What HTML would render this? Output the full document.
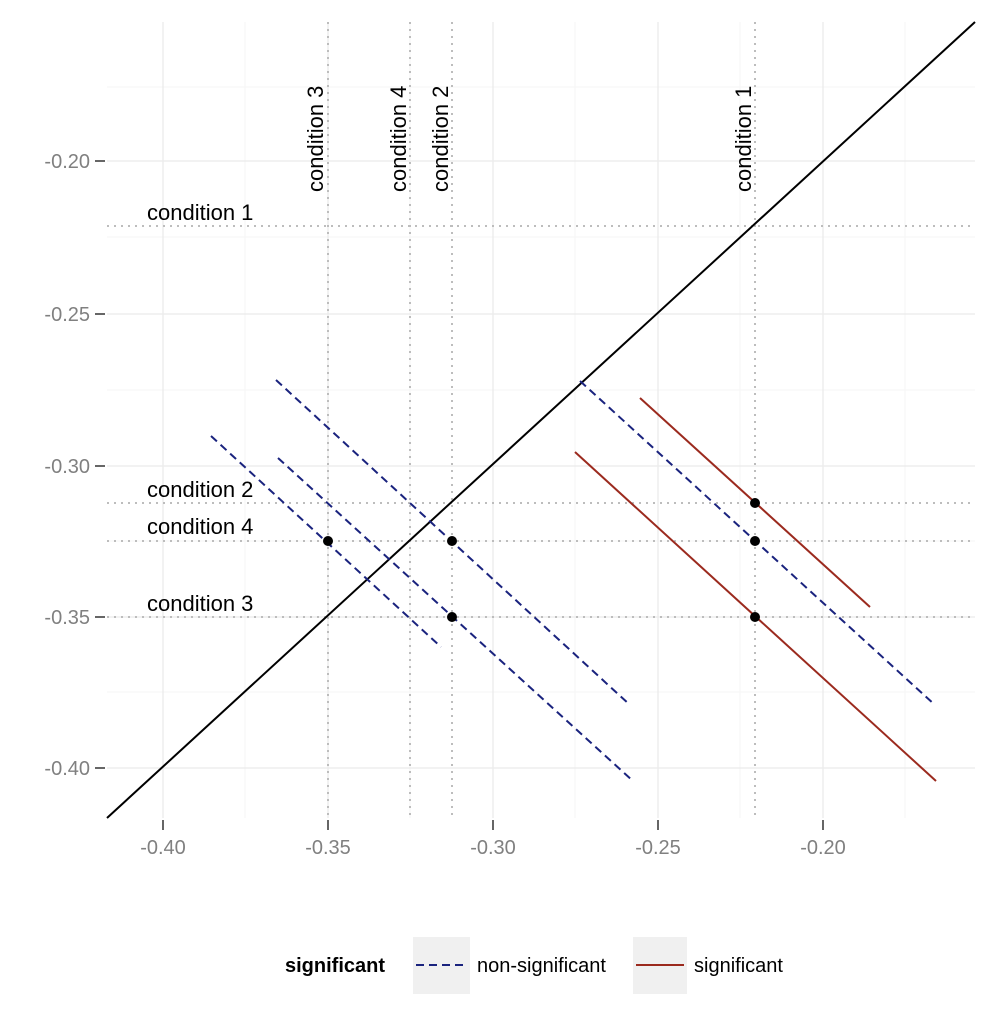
<!DOCTYPE html>
<html><head><style>body{margin:0;background:#fff}</style></head><body>
<svg width="1004" height="1004" xmlns="http://www.w3.org/2000/svg" font-family="Liberation Sans, sans-serif">
<rect width="1004" height="1004" fill="#fff"/>
<g stroke="#f5f5f5" stroke-width="1">
<line x1="245" y1="22" x2="245" y2="818"/><line x1="410" y1="22" x2="410" y2="818"/><line x1="575" y1="22" x2="575" y2="818"/><line x1="740" y1="22" x2="740" y2="818"/><line x1="905" y1="22" x2="905" y2="818"/>
<line x1="107" y1="87" x2="975" y2="87"/><line x1="107" y1="237" x2="975" y2="237"/><line x1="107" y1="390" x2="975" y2="390"/><line x1="107" y1="541" x2="975" y2="541"/><line x1="107" y1="692" x2="975" y2="692"/>
</g>
<g stroke="#ededed" stroke-width="1.5">
<line x1="163" y1="22" x2="163" y2="818"/><line x1="328" y1="22" x2="328" y2="818"/><line x1="493" y1="22" x2="493" y2="818"/><line x1="658" y1="22" x2="658" y2="818"/><line x1="823" y1="22" x2="823" y2="818"/>
<line x1="107" y1="161" x2="975" y2="161"/><line x1="107" y1="314" x2="975" y2="314"/><line x1="107" y1="466" x2="975" y2="466"/><line x1="107" y1="617" x2="975" y2="617"/><line x1="107" y1="768" x2="975" y2="768"/>
</g>
<g stroke="#bdbdbd" stroke-width="2" stroke-dasharray="2,5">
<line x1="328" y1="22" x2="328" y2="818"/><line x1="410" y1="22" x2="410" y2="818"/><line x1="452" y1="22" x2="452" y2="818"/><line x1="755" y1="22" x2="755" y2="818"/>
<line x1="107" y1="226" x2="975" y2="226"/><line x1="107" y1="503" x2="975" y2="503"/><line x1="107" y1="541" x2="975" y2="541"/><line x1="107" y1="617" x2="975" y2="617"/>
</g>
<line x1="107" y1="818" x2="975" y2="22" stroke="#000" stroke-width="2"/>
<g stroke="#1a237e" stroke-width="2" stroke-dasharray="8,5">
<line x1="211" y1="436" x2="441" y2="647"/>
<line x1="276" y1="380" x2="630" y2="705"/>
<line x1="278" y1="458" x2="633" y2="781"/>
<line x1="580" y1="381" x2="935" y2="705"/>
</g>
<g stroke="#9b2a1e" stroke-width="2">
<line x1="640" y1="398" x2="870" y2="607"/>
<line x1="575" y1="452" x2="936" y2="781"/>
</g>
<g fill="#000">
<circle cx="328" cy="541" r="5"/><circle cx="452" cy="541" r="5"/><circle cx="452" cy="617" r="5"/>
<circle cx="755" cy="503" r="5"/><circle cx="755" cy="541" r="5"/><circle cx="755" cy="617" r="5"/>
</g>
<g font-size="22" fill="#000">
<text x="147" y="220">condition 1</text><text x="147" y="497">condition 2</text><text x="147" y="534">condition 4</text><text x="147" y="611">condition 3</text>
<text transform="translate(323,192) rotate(-90)">condition 3</text>
<text transform="translate(406,192) rotate(-90)">condition 4</text>
<text transform="translate(448,192) rotate(-90)">condition 2</text>
<text transform="translate(751,192) rotate(-90)">condition 1</text>
</g>
<g stroke="#666" stroke-width="2">
<line x1="95" y1="161" x2="105" y2="161"/><line x1="95" y1="314" x2="105" y2="314"/><line x1="95" y1="466" x2="105" y2="466"/><line x1="95" y1="617" x2="105" y2="617"/><line x1="95" y1="768" x2="105" y2="768"/>
<line x1="163" y1="820" x2="163" y2="830"/><line x1="328" y1="820" x2="328" y2="830"/><line x1="493" y1="820" x2="493" y2="830"/><line x1="658" y1="820" x2="658" y2="830"/><line x1="823" y1="820" x2="823" y2="830"/>
</g>
<g font-size="20" fill="#808080">
<g text-anchor="end"><text x="90" y="168">-0.20</text><text x="90" y="321">-0.25</text><text x="90" y="473">-0.30</text><text x="90" y="624">-0.35</text><text x="90" y="775">-0.40</text></g>
<g text-anchor="middle"><text x="163" y="854">-0.40</text><text x="328" y="854">-0.35</text><text x="493" y="854">-0.30</text><text x="658" y="854">-0.25</text><text x="823" y="854">-0.20</text></g>
</g>
<text x="285" y="972" font-size="20" font-weight="bold">significant</text>
<rect x="413" y="937" width="57" height="57" fill="#f0f0f0"/>
<line x1="416" y1="965" x2="467" y2="965" stroke="#1a237e" stroke-width="2" stroke-dasharray="8,5"/>
<text x="477" y="972" font-size="20">non-significant</text>
<rect x="633" y="937" width="54" height="57" fill="#f0f0f0"/>
<line x1="636" y1="965" x2="684" y2="965" stroke="#9b2a1e" stroke-width="2"/>
<text x="694" y="972" font-size="20">significant</text>
</svg>
</body></html>
